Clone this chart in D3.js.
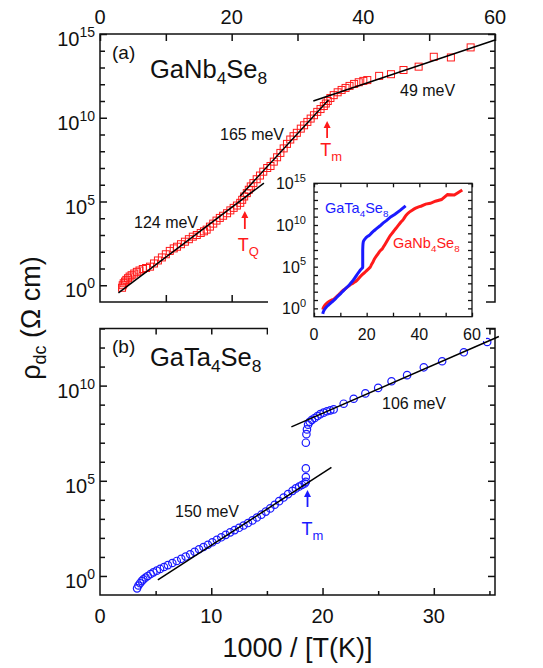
<!DOCTYPE html>
<html><head><meta charset="utf-8">
<script src="https://cdn.jsdelivr.net/npm/d3@7"></script>
<style>body{margin:0;background:#fff}svg{display:block}text{font-family:Arial,"Liberation Sans",sans-serif;fill:#111}</style>
</head><body><svg id="c" width="543" height="668"></svg>
<script>
// ---------------- data (x = 1000/T, value = log10 rho) ----------------
const gaNb4Se8 = [[3.35,-0.15],[3.45,0.0],[3.6,0.12],[3.8,0.22],[4.0,0.32],[4.25,0.42],[4.5,0.52],[4.8,0.6],[5.2,0.7],[5.6,0.8],[6.0,0.88],[6.5,0.97],[7.0,1.03],[7.6,1.11],[8.2,1.3],[8.8,1.48],[9.4,1.66],[10.0,1.85],[10.6,2.05],[11.2,2.2],[11.7,2.3],[12.3,2.45],[12.9,2.6],[13.5,2.75],[14.1,2.9],[14.7,3.0],[15.3,3.12],[15.8,3.22],[16.2,3.32],[16.7,3.5],[17.2,3.68],[17.7,3.86],[18.2,4.02],[18.7,4.15],[19.3,4.3],[19.8,4.47],[20.3,4.62],[20.8,4.76],[21.3,4.92],[21.6,5.1],[21.9,5.3],[22.3,5.5],[22.6,5.7],[22.9,5.9],[23.3,6.1],[23.8,6.33],[24.3,6.55],[24.8,6.78],[25.4,7.0],[25.9,7.12],[26.4,7.38],[26.9,7.64],[27.4,7.9],[27.9,8.17],[28.4,8.44],[28.9,8.7],[29.4,8.9],[29.9,9.1],[30.5,9.35],[31.0,9.55],[31.5,9.75],[32.0,9.95],[32.5,10.15],[33.0,10.35],[33.5,10.52],[34.0,10.7],[34.3,10.85],[34.6,11.0],[35.0,11.18],[35.5,11.35],[36.1,11.52],[36.7,11.66],[37.3,11.78],[37.9,11.9],[38.6,12.02],[39.3,12.12],[40.0,12.2],[40.6,12.25],[42.4,12.5],[44.2,12.6],[46.1,12.85],[48.4,13.05],[50.7,13.64],[53.3,13.6],[56.3,14.2]];
const gaTa4Se8 = [[3.33,-0.65],[3.45,-0.5],[3.6,-0.38],[3.75,-0.27],[3.9,-0.18],[4.1,-0.08],[4.3,0.0],[4.55,0.1],[4.8,0.19],[5.1,0.28],[5.4,0.37],[5.75,0.47],[6.1,0.57],[6.5,0.68],[6.9,0.79],[7.3,0.9],[7.7,1.02],[8.1,1.14],[8.5,1.27],[8.9,1.4],[9.3,1.52],[9.7,1.64],[10.1,1.77],[10.5,1.9],[10.9,2.03],[11.3,2.16],[11.7,2.29],[12.1,2.41],[12.5,2.53],[12.9,2.65],[13.3,2.78],[13.7,2.92],[14.1,3.07],[14.5,3.22],[14.9,3.38],[15.3,3.55],[15.7,3.74],[16.1,3.93],[16.5,4.12],[16.9,4.3],[17.3,4.47],[17.6,4.6],[17.9,4.7],[18.15,4.78],[18.4,4.86],[18.5,4.95],[18.5,5.2],[18.5,5.65],[18.5,7.0],[18.55,7.45],[18.6,7.7],[18.7,7.95],[18.85,8.1],[19.05,8.2],[19.3,8.3],[19.55,8.4],[19.8,8.5],[20.1,8.58],[20.4,8.65],[20.7,8.7],[21.0,8.75],[21.9,9.05],[22.8,9.31],[23.85,9.59],[25.0,9.88],[26.2,10.23],[27.6,10.55],[29.1,10.96],[30.75,11.28],[32.7,11.75],[34.8,12.29]];
// activation-energy fits: [x0, log0, x1, log1]
const fitsA = [[2.8,-0.46,24.9,6.1],[21.3,5.33,34.7,11.06],[32.4,11.0,60,14.64]];
const fitsALabels = ["124 meV","165 meV","49 meV"];
const fitsB = [[5.2,-0.2,20.8,5.7],[17.2,7.83,35.85,12.58]];
const fitsBLabels = ["150 meV","106 meV"];
// transitions (x = 1000/T)
const transA = [{x:34.5,name:"T",sub:"m"},{x:22.0,name:"T",sub:"Q"}];
const transB = [{x:18.65,name:"T",sub:"m"}];
// tick labels
const topXTicks = [0,20,40,60];
const botXTicks = [0,10,20,30];
const aYExp = [0,5,10,15];
const bYExp = [0,5,10];
const insXTicks = [0,20,40,60];
const insYExp = [0,5,10,15];

// ---------------- scales ----------------
const RED="#ff1a1a", BLUE="#1a1aff";
const svg=d3.select("#c");
const xA=d3.scaleLinear().domain([0,60]).range([100,495]);
const yA=d3.scaleLog().domain([1e-1,1e15]).range([302,34]);
const xB=d3.scaleLinear().domain([0,35.5]).range([100,495]);
const yB=d3.scaleLog().domain([1e-1,1e13]).range([595,328.5]);
const xI=d3.scaleLinear().domain([0,60]).range([314,472]);
const yI=d3.scaleLog().domain([1e-1,1e15]).range([316.7,183.3]);
const p10=v=>Math.pow(10,v);

function axes(g,x,y,opts){
  const [x0,x1]=x.range(), [y1,y0]=y.range();
  const lw=opts.lw||1.5;
  const clean=s=>s.call(a=>a.select(".domain").remove()).selectAll("line").attr("stroke","#111").attr("stroke-width",lw);
  const yMajor=opts.yMajor.map(p10), yMinor=opts.yMinor.map(p10);
  [[yMajor,opts.tMaj],[yMinor,opts.tMin]].forEach(([vals,sz])=>{
    g.append("g").attr("transform",`translate(${x0},0)`).call(d3.axisLeft(y).tickValues(vals).tickSize(-sz).tickFormat("")).call(clean);
    g.append("g").attr("transform",`translate(${x1},0)`).call(d3.axisRight(y).tickValues(vals).tickSize(-sz).tickFormat("")).call(clean);
  });
  if(opts.xTop){opts.xTop.forEach(([vals,sz])=>g.append("g").attr("transform",`translate(0,${y0})`).call(d3.axisTop(x).tickValues(vals).tickSize(-sz).tickFormat("")).call(clean));}
  if(opts.xBot){opts.xBot.forEach(([vals,sz])=>g.append("g").attr("transform",`translate(0,${y1})`).call(d3.axisBottom(x).tickValues(vals).tickSize(-sz).tickFormat("")).call(clean));}
  g.append("rect").attr("x",x0).attr("y",y0).attr("width",x1-x0).attr("height",y1-y0).attr("fill","none").attr("stroke","#111").attr("stroke-width",lw);
}
function powLabel(g,x,y,e,fs,sfs,anchor){
  const t=g.append("text").attr("x",x).attr("y",y).attr("font-size",fs).attr("text-anchor",anchor||"end");
  t.append("tspan").text("10");
  t.append("tspan").attr("dy",-fs*0.45).attr("font-size",sfs).text(e);
}
function chem(g,x,y,parts,fs,color){
  const t=g.append("text").attr("x",x).attr("y",y).attr("font-size",fs).style("fill",color||"#111");
  let down=false;
  parts.forEach(p=>{
    const sub=typeof p!=="string";
    const s=t.append("tspan").text(sub?p[0]:p);
    if(sub){s.attr("font-size",fs*0.68).attr("dy",fs*0.25);down=true;}
    else if(down){s.attr("dy",-fs*0.25);down=false;}
  });
  return t;
}
function arrow(g,x,yTail,yTip,color){
  g.append("line").attr("x1",x).attr("x2",x).attr("y1",yTail).attr("y2",yTip+5).attr("stroke",color).attr("stroke-width",1.8);
  g.append("path").attr("d",`M${x},${yTip}L${x-3.5},${yTip+7}L${x+3.5},${yTip+7}Z`).attr("fill",color);
}

// ---------------- panel (a) ----------------
const gA=svg.append("g");
axes(gA,xA,yA,{yMajor:[0,5,10,15],yMinor:d3.range(0,15).filter(d=>d%5),tMaj:7,tMin:5,
  xTop:[[d3.range(0,61,10),7]],xBot:[[[10,20,30,40,50],7]]});
topXTicks.forEach(v=>gA.append("text").attr("x",xA(v)).attr("y",23.5).attr("font-size",20).attr("text-anchor","middle").text(v));
aYExp.forEach(e=>powLabel(gA,95,yA(p10(e))+12,e,20,14));
const lineA=d3.line().x(d=>xA(d[0])).y(d=>yA(p10(d[1])));
gA.selectAll("rect.sq").data(gaNb4Se8).join("rect").attr("class","sq")
  .attr("x",d=>xA(d[0])-3.5).attr("y",d=>yA(p10(d[1]))-3.5).attr("width",7).attr("height",7)
  .attr("fill","none").attr("stroke",RED).attr("stroke-width",1);
fitsA.forEach(f=>gA.append("path").attr("d",lineA([[f[0],f[1]],[f[2],f[3]]])).attr("stroke","#000").attr("stroke-width",1.5).attr("fill","none"));
const fitAPos=[[134,228],[220,140],[400,96]];
fitsALabels.forEach((s,i)=>gA.append("text").attr("x",fitAPos[i][0]).attr("y",fitAPos[i][1]).attr("font-size",16).text(s));
gA.append("text").attr("x",112).attr("y",59).attr("font-size",19).text("(a)");
chem(gA,150,78,["GaNb",["4"],"Se",["8"]],25.5);
[[121,138,156],[211,229,251]].forEach((p,i)=>{
  const t=transA[i], x=xA(t.x);
  arrow(gA,x,p[1],p[0],RED);
  const tx=gA.append("text").attr("x",x-7).attr("y",p[2]).attr("font-size",18).style("fill",RED);
  tx.append("tspan").text(t.name); tx.append("tspan").attr("dy",5).attr("font-size",13).text(t.sub);
});

// ---------------- panel (b) ----------------
const gB=svg.append("g");
axes(gB,xB,yB,{yMajor:[0,5,10],yMinor:d3.range(0,14).filter(d=>d%5),tMaj:7,tMin:5,
  xTop:[[[5,10,15,20,25,30,35],6]],xBot:[[[10,20,30],7],[[5,15,25,35],4]]});
botXTicks.forEach(v=>gB.append("text").attr("x",xB(v)).attr("y",623).attr("font-size",20).attr("text-anchor","middle").text(v));
bYExp.forEach(e=>powLabel(gB,95,yB(p10(e))+12,e,20,14));
const lineB=d3.line().x(d=>xB(d[0])).y(d=>yB(p10(d[1])));
gB.selectAll("circle").data(gaTa4Se8).join("circle")
  .attr("cx",d=>xB(d[0])).attr("cy",d=>yB(p10(d[1]))).attr("r",3.7)
  .attr("fill","none").attr("stroke",BLUE).attr("stroke-width",1.2);
fitsB.forEach(f=>gB.append("path").attr("d",lineB([[f[0],f[1]],[f[2],f[3]]])).attr("stroke","#000").attr("stroke-width",1.5).attr("fill","none"));
const fitBPos=[[175,517],[382,409]];
fitsBLabels.forEach((s,i)=>gB.append("text").attr("x",fitBPos[i][0]).attr("y",fitBPos[i][1]).attr("font-size",16).text(s));
gB.append("text").attr("x",112).attr("y",353).attr("font-size",19).text("(b)");
chem(gB,150,366,["GaTa",["4"],"Se",["8"]],25.5);
transB.forEach(t=>{
  const x=xB(t.x);
  arrow(gB,x,507,490,BLUE);
  const tx=gB.append("text").attr("x",x-6).attr("y",535).attr("font-size",18).style("fill",BLUE);
  tx.append("tspan").text(t.name); tx.append("tspan").attr("dy",5).attr("font-size",13).text(t.sub);
});

// axis titles
svg.append("text").attr("x",297.5).attr("y",657).attr("font-size",27).attr("text-anchor","middle").text("1000 / [T(K)]");
const yt=svg.append("text").attr("transform","translate(40,318) rotate(-90)").attr("font-size",27).attr("text-anchor","middle");
yt.append("tspan").text("\u03C1");
yt.append("tspan").attr("dy",6).attr("font-size",18).text("dc");
yt.append("tspan").attr("dy",-6).text(" (\u03A9 cm)");

// ---------------- inset ----------------
svg.append("rect").attr("x",268).attr("y",172).attr("width",218).attr("height",169).attr("fill","#fff");
const gI=svg.append("g");
axes(gI,xI,yI,{yMajor:d3.range(0,16),yMinor:[],tMaj:4,tMin:0,lw:1.3,
  xTop:[[d3.range(0,61,10),4]],xBot:[[d3.range(0,61,10),4]]});
insXTicks.forEach(v=>gI.append("text").attr("x",xI(v)).attr("y",340).attr("font-size",16).attr("text-anchor","middle").text(v));
insYExp.forEach(e=>powLabel(gI,306,yI(p10(e))+6,e,16,11));
const lineI=d3.line().x(d=>xI(d[0])).y(d=>yI(p10(d[1])));
gI.append("path").attr("d",lineI(gaNb4Se8)).attr("fill","none").attr("stroke",RED).attr("stroke-width",3);
gI.append("path").attr("d",lineI(gaTa4Se8)).attr("fill","none").attr("stroke",BLUE).attr("stroke-width",3);
chem(gI,325,213,["GaTa",["4"],"Se",["8"]],14.5,BLUE);
chem(gI,393,248,["GaNb",["4"],"Se",["8"]],14.5,RED);
</script></body></html>
